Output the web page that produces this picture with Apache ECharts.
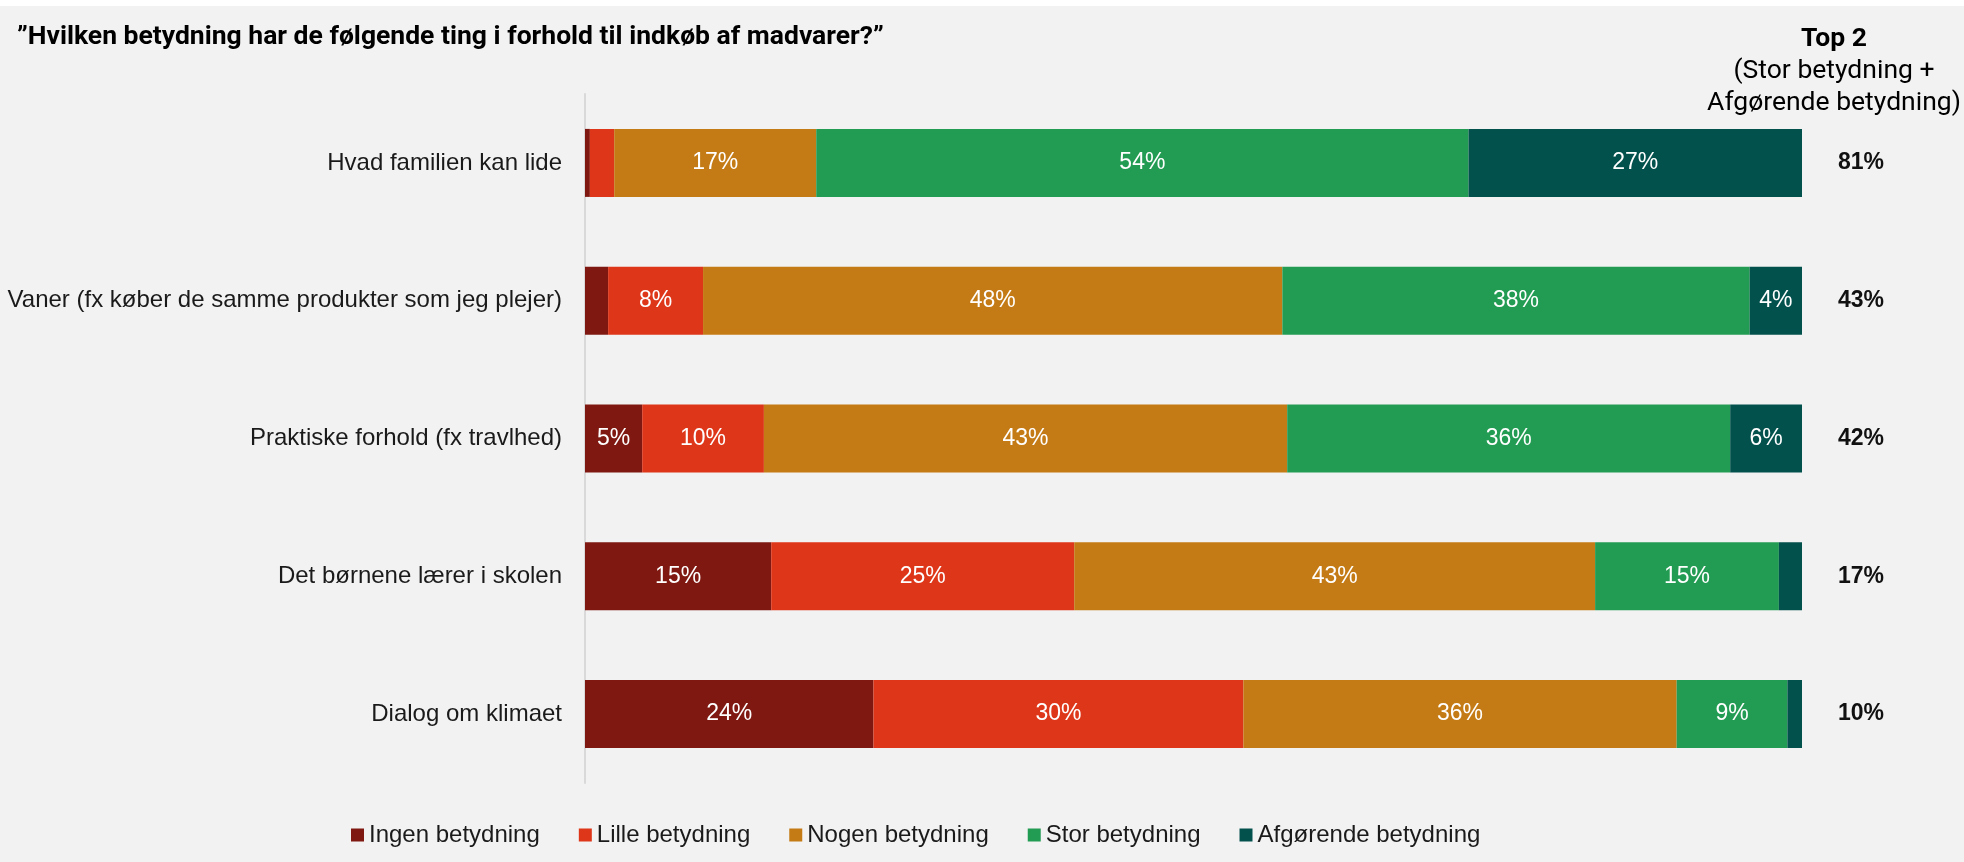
<!DOCTYPE html>
<html>
<head>
<meta charset="utf-8">
<script src="https://cdn.jsdelivr.net/npm/echarts@6/dist/echarts.min.js"></script>
<style>
  html, body { margin: 0; padding: 0; background: #ffffff; }
  #chart { width: 1964px; height: 862px; }
</style>
</head>
<body>
<div id="chart"></div>
<script>
// Survey: importance of factors when buying groceries (share of respondents, %)
const categories = [
  'Hvad familien kan lide',
  'Vaner (fx køber de samme produkter som jeg plejer)',
  'Praktiske forhold (fx travlhed)',
  'Det børnene lærer i skolen',
  'Dialog om klimaet'
];
const seriesNames = ['Ingen betydning', 'Lille betydning', 'Nogen betydning', 'Stor betydning', 'Afgørende betydning'];
const ingen      = [0.4, 1.9, 4.7, 15.3, 23.7];
const lille      = [2.0, 7.8, 10.0, 24.9, 30.4];
const nogen      = [16.6, 47.6, 43.0, 42.8, 35.6];
const stor       = [53.6, 38.4, 36.4, 15.1, 9.1];
const afgoerende = [27.4, 4.3, 5.9, 1.9, 1.2];
const top2       = [81, 43, 42, 17, 10];

const colors = ['#7E1811', '#DE3619', '#C47B15', '#229B53', '#03514D'];
const values = [ingen, lille, nogen, stor, afgoerende];

const ARIAL = 'Liberation Sans, Arial, sans-serif';

const chart = echarts.init(document.getElementById('chart'), null, { renderer: 'canvas' });

const series = seriesNames.map((name, i) => ({
  name: name,
  type: 'bar',
  stack: 'total',
  barWidth: 68,
  data: values[i],
  itemStyle: { color: colors[i] },
  label: {
    show: true,
    position: 'inside',
    color: '#ffffff',
    fontFamily: ARIAL,
    fontSize: 23,
    formatter: p => (p.value >= 3 ? Math.round(p.value) + '%' : '')
  },
  emphasis: { disabled: true }
}));

chart.setOption({
  animation: false,
  backgroundColor: '#f2f2f2',
  color: colors,
  title: {
    text: '\u201DHvilken betydning har de følgende ting i forhold til indkøb af madvarer?\u201D',
    left: 12,
    top: 19,
    textStyle: { fontFamily: 'Roboto', fontWeight: 'bold', fontSize: 26.5, color: '#000000' }
  },
  graphic: [
    { type: 'rect', left: 0, top: 0, shape: { width: 1964, height: 6 }, style: { fill: '#ffffff' }, silent: true },
    {
      type: 'text',
      x: 1834,
      y: 23,
      style: {
        text: '{b|Top 2}\n{r|(Stor betydning +}\n{r|Afgørende betydning)}',
        textAlign: 'center',
        rich: {
          b: { fontFamily: 'Roboto', fontWeight: 'bold', fontSize: 26.5, lineHeight: 32, color: '#111111', align: 'center' },
          r: { fontFamily: 'Roboto', fontSize: 26.5, lineHeight: 32, color: '#111111', align: 'center' }
        }
      }
    }
  ],
  legend: {
    left: 346,
    top: 818,
    icon: 'rect',
    itemWidth: 13,
    itemHeight: 13,
    itemGap: 39,
    selectedMode: false,
    textStyle: { fontFamily: ARIAL, fontSize: 24, color: '#1a1a1a' },
    data: seriesNames
  },
  grid: { left: 585, right: 162, top: 94, height: 689, containLabel: false },
  xAxis: {
    type: 'value',
    min: 0,
    max: 100,
    show: false
  },
  yAxis: [
    {
      type: 'category',
      inverse: true,
      data: categories,
      axisLine: { show: true, lineStyle: { color: '#d9d9d9', width: 2 } },
      axisTick: { show: false },
      axisLabel: { fontFamily: ARIAL, fontSize: 24, color: '#1a1a1a', margin: 23 }
    },
    {
      type: 'category',
      inverse: true,
      position: 'right',
      data: categories,
      axisLine: { show: false },
      axisTick: { show: false },
      axisLabel: {
        fontFamily: ARIAL,
        fontWeight: 'bold',
        fontSize: 23,
        color: '#111111',
        align: 'center',
        margin: 59,
        formatter: (v, i) => top2[i] + '%'
      }
    }
  ],
  series: series
});
</script>
</body>
</html>
